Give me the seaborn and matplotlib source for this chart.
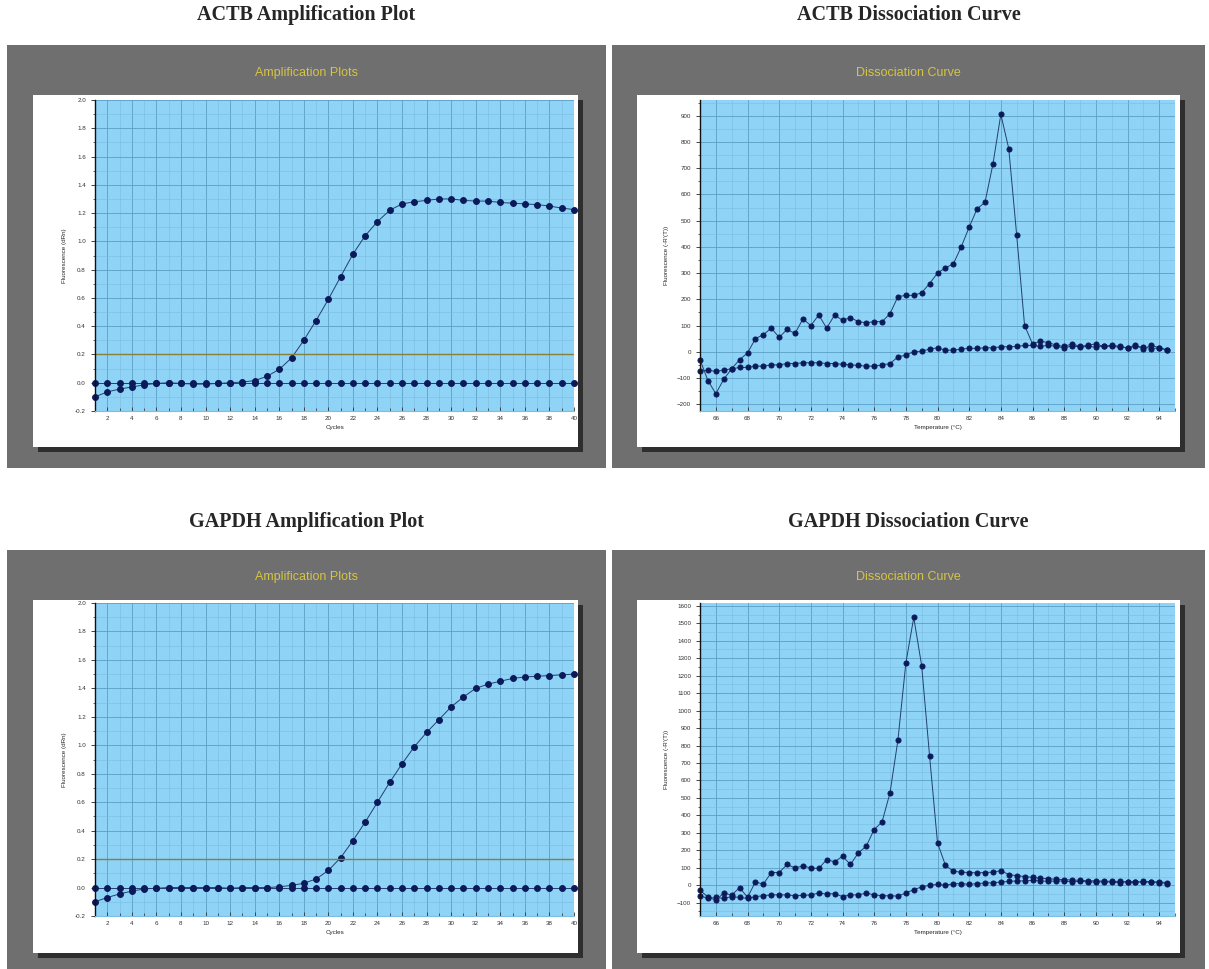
# -*- coding: utf-8 -*-
"""
    qPCR 扩增曲线 / 熔解曲线 (ACTB, GAPDH)
"""
import matplotlib
matplotlib.use('Agg')
import matplotlib.pyplot as plt
from matplotlib.patches import Rectangle
from matplotlib.ticker import MultipleLocator
import seaborn as sns

# ---------------- 数据 ----------------
cycles = list(range(1, 41))

actb_amp = [-0.10, -0.065, -0.045, -0.03, -0.015, -0.005, 0.0, -0.005, -0.01, -0.01,
            -0.005, 0.0, 0.005, 0.015, 0.045, 0.095, 0.175, 0.30, 0.44, 0.59,
            0.75, 0.91, 1.04, 1.14, 1.22, 1.265, 1.28, 1.29, 1.30, 1.30,
            1.29, 1.285, 1.285, 1.275, 1.27, 1.265, 1.26, 1.25, 1.235, 1.225]
gapdh_amp = [-0.10, -0.07, -0.045, -0.025, -0.01, -0.005, 0.0, 0.0, 0.0, 0.0,
             0.0, -0.005, 0.0, 0.0, 0.0, 0.005, 0.015, 0.03, 0.06, 0.12,
             0.21, 0.33, 0.46, 0.60, 0.74, 0.87, 0.99, 1.09, 1.18, 1.27,
             1.34, 1.40, 1.43, 1.45, 1.47, 1.48, 1.485, 1.49, 1.495, 1.50]
ntc_amp = [0.0, 0.0, 0.0, 0.0, 0.0, 0.0, 0.0, 0.0, 0.0, 0.0,
           0.0, 0.0, 0.0, 0.0, 0.0, 0.0, 0.0, 0.0, 0.0, 0.0,
           0.0, 0.0, 0.0, 0.0, 0.0, 0.0, 0.0, 0.0, 0.0, 0.0,
           0.0, 0.0, 0.0, 0.0, 0.0, 0.0, 0.0, 0.0, 0.0, 0.0]
threshold = 0.2

temps = [65.0, 65.5, 66.0, 66.5, 67.0, 67.5, 68.0, 68.5, 69.0, 69.5,
         70.0, 70.5, 71.0, 71.5, 72.0, 72.5, 73.0, 73.5, 74.0, 74.5,
         75.0, 75.5, 76.0, 76.5, 77.0, 77.5, 78.0, 78.5, 79.0, 79.5,
         80.0, 80.5, 81.0, 81.5, 82.0, 82.5, 83.0, 83.5, 84.0, 84.5,
         85.0, 85.5, 86.0, 86.5, 87.0, 87.5, 88.0, 88.5, 89.0, 89.5,
         90.0, 90.5, 91.0, 91.5, 92.0, 92.5, 93.0, 93.5, 94.0, 94.5]

actb_melt = [-30, -110, -160, -105, -65, -30, -5, 50, 65, 90,
             55, 85, 70, 125, 100, 140, 90, 140, 120, 130,
             115, 110, 115, 115, 145, 210, 215, 215, 225, 260,
             300, 320, 335, 400, 475, 545, 570, 715, 905, 775,
             445, 100, 30, 40, 35, 25, 20, 30, 20, 25,
             30, 20, 25, 20, 15, 25, 10, 25, 15, 5]
actb_melt_ntc = [-75, -70, -75, -70, -65, -60, -60, -55, -55, -50,
                 -50, -45, -45, -42, -42, -42, -45, -45, -48, -50,
                 -52, -55, -55, -50, -45, -20, -13, 0, 2, 10,
                 15, 6, 6, 10, 13, 13, 15, 15, 19, 19,
                 20, 24, 24, 20, 25, 20, 15, 22, 18, 20,
                 18, 22, 20, 18, 15, 20, 18, 12, 15, 8]
gapdh_melt = [-29, -67, -86, -44, -57, -13, -69, 19, 6, 73,
              73, 119, 99, 111, 99, 96, 147, 134, 166, 119,
              185, 224, 319, 363, 529, 831, 1271, 1533, 1257, 740,
              243, 115, 80, 75, 73, 71, 73, 75, 84, 61,
              55, 50, 45, 40, 38, 34, 32, 30, 28, 26,
              25, 24, 22, 22, 20, 20, 18, 18, 20, 15]
gapdh_melt_ntc = [-60, -75, -70, -75, -65, -70, -75, -65, -60, -55,
                  -55, -55, -60, -58, -55, -45, -50, -48, -65, -55,
                  -55, -45, -55, -60, -60, -62, -45, -25, -10, 0,
                  5, 0, 8, 10, 5, 10, 12, 15, 18, 22,
                  25, 25, 28, 25, 22, 25, 24, 20, 22, 20,
                  18, 20, 18, 15, 20, 18, 22, 20, 15, 10]

# ---------------- 版式 (像素) ----------------
W, H = 1209, 969
COL_GRAY = [(7, 606), (612, 1205)]
COL_WHITE = [(33, 578), (637, 1180)]
COL_AX = [(95, 574), (700, 1175)]
ROW_GRAY = [(45, 468), (550, 969)]
ROW_WHITE = [(95, 447), (600, 953)]
ROW_AX = [(100, 411), (603, 916)]
ROW_TITLE = [15, 522]
ROW_SUB = [73, 577]

PANEL_BG = '#6f6f6f'
AX_BG = '#8fd3f6'
DOT = '#0b1a5a'
LINE = '#22406e'
SUB_COLOR = '#d6c443'

sns.set_style('white')
plt.rcParams['font.family'] = ['Liberation Sans', 'DejaVu Sans']

fig = plt.figure(figsize=(W / 100, H / 100), dpi=100)
fig.patch.set_facecolor('white')


def frac(x0, y0, x1, y1):
    return [x0 / W, 1 - y1 / H, (x1 - x0) / W, (y1 - y0) / H]


def add_rect(x0, y0, x1, y1, color, z):
    l, b, w, h = frac(x0, y0, x1, y1)
    fig.add_artist(Rectangle((l, b), w, h, transform=fig.transFigure,
                             facecolor=color, edgecolor='none', zorder=z))


def make_panel(col, row, title, subtitle):
    gx, gy = COL_GRAY[col], ROW_GRAY[row]
    wx, wy = COL_WHITE[col], ROW_WHITE[row]
    ax_x, ax_y = COL_AX[col], ROW_AX[row]
    cx = (gx[0] + gx[1]) / 2
    add_rect(gx[0], gy[0], gx[1], gy[1], PANEL_BG, -3)
    add_rect(wx[0] + 5, wy[0] + 5, wx[1] + 5, wy[1] + 5, '#2e2e2e', -2)
    add_rect(wx[0], wy[0], wx[1], wy[1], 'white', -1)
    fig.text(cx / W, 1 - ROW_TITLE[row] / H, title, ha='center', va='center',
             fontsize=14.5, fontweight='bold', family=['Liberation Serif', 'DejaVu Serif'])
    fig.text(cx / W, 1 - ROW_SUB[row] / H, subtitle, ha='center', va='center',
             fontsize=9, color=SUB_COLOR)
    ax = fig.add_axes(frac(ax_x[0], ax_y[0], ax_x[1], ax_y[1]))
    ax.set_facecolor(AX_BG)
    return ax


def style_axes(ax, xmaj, xmin, ymaj, ymin):
    ax.xaxis.set_major_locator(MultipleLocator(xmaj))
    ax.xaxis.set_minor_locator(MultipleLocator(xmin))
    ax.yaxis.set_major_locator(MultipleLocator(ymaj))
    ax.yaxis.set_minor_locator(MultipleLocator(ymin))
    ax.grid(which='major', color='#5c9fc6', linewidth=0.6)
    ax.grid(which='minor', color='#7cbde2', linewidth=0.4)
    ax.set_axisbelow(True)
    for s in ['top', 'right']:
        ax.spines[s].set_visible(False)
    ax.spines['bottom'].set_color('#7cbde2')
    ax.spines['left'].set_color('#111111')
    ax.spines['left'].set_linewidth(1.0)
    ax.tick_params(axis='y', which='major', direction='out', length=3, width=0.6,
                   labelsize=4.5, labelcolor='#333333', left=True)
    ax.tick_params(axis='y', which='minor', direction='out', length=1.5, width=0.5, left=True)
    ax.tick_params(axis='x', which='major', direction='in', length=3, width=0.6,
                   labelsize=4.5, labelcolor='#333333', bottom=True, colors='#333333')
    ax.tick_params(axis='x', which='minor', direction='in', length=2, width=0.5, bottom=True)
    ax.xaxis.label.set_size(4.5)
    ax.yaxis.label.set_size(4.5)


def draw_series(ax, x, y, ms):
    sns.lineplot(x=x, y=y, ax=ax, color=LINE, linewidth=0.7, marker='o',
                 markersize=ms, markerfacecolor=DOT, markeredgecolor=DOT,
                 estimator=None, sort=False, clip_on=False, legend=False)


def amp_panel(col, row, title, sample):
    ax = make_panel(col, row, title, 'Amplification Plots')
    draw_series(ax, cycles, ntc_amp, 4.2)
    draw_series(ax, cycles, sample, 4.2)
    ax.axhline(threshold, color='#85813a', linewidth=1.0, zorder=2)
    ax.set_xlim(1, 40)
    ax.set_ylim(-0.2, 2.0)
    ax.set_xlabel('Cycles', labelpad=3)
    ax.set_ylabel('Fluorescence (dRn)', labelpad=6)
    style_axes(ax, 2, 1, 0.2, 0.1)
    ax.yaxis.set_major_formatter(plt.FormatStrFormatter('%.1f'))


def melt_panel(col, row, title, sample, ntc, ylim):
    ax = make_panel(col, row, title, 'Dissociation Curve')
    draw_series(ax, temps, ntc, 3.6)
    draw_series(ax, temps, sample, 3.6)
    ax.set_xlim(65, 95)
    ax.set_ylim(*ylim)
    ax.set_xlabel('Temperature (°C)', labelpad=3)
    ax.set_ylabel("Fluorescence (-R'(T))", labelpad=6)
    style_axes(ax, 2, 1, 100, 50)


amp_panel(0, 0, 'ACTB Amplification Plot', actb_amp)
melt_panel(1, 0, 'ACTB Dissociation Curve', actb_melt, actb_melt_ntc, (-226, 960))
amp_panel(0, 1, 'GAPDH Amplification Plot', gapdh_amp)
melt_panel(1, 1, 'GAPDH Dissociation Curve', gapdh_melt, gapdh_melt_ntc, (-176, 1616))

plt.savefig('out.png', dpi=100)
